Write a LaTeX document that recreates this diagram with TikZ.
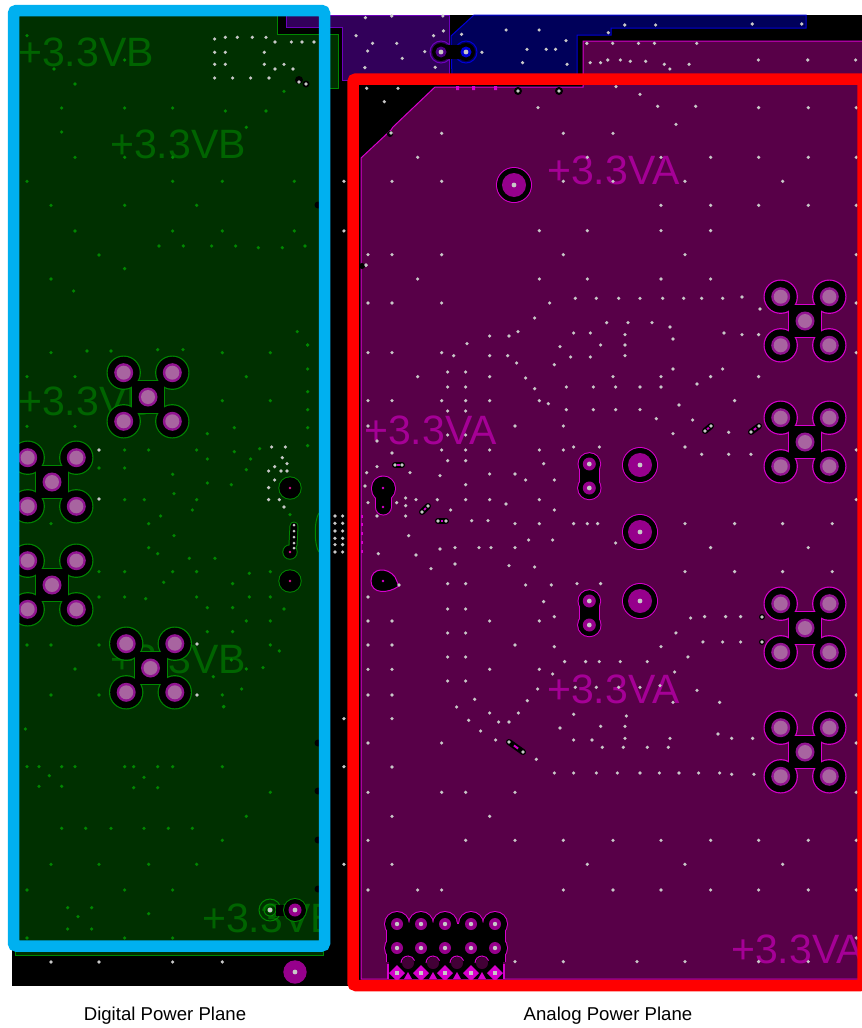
\documentclass[tikz,border=0pt]{standalone}
\usepackage{fontspec}
\setmainfont{Liberation Sans}
\definecolor{boxblue}{RGB}{0,176,240}
\definecolor{digiplane}{RGB}{0,48,0}
\definecolor{digiedge}{RGB}{0,135,0}
\definecolor{digitext}{RGB}{0,100,0}
\definecolor{anaplane}{RGB}{88,0,72}
\definecolor{anaedge}{RGB}{215,0,205}
\definecolor{anatext}{RGB}{165,0,150}
\definecolor{padring}{RGB}{145,20,145}
\definecolor{padcore}{RGB}{168,100,160}
\definecolor{viafill}{RGB}{150,0,140}
\definecolor{drillgrey}{RGB}{200,200,200}
\definecolor{violetplane}{RGB}{50,0,90}
\definecolor{violetedge}{RGB}{110,0,190}
\definecolor{navyplane}{RGB}{0,0,90}
\definecolor{navyedge}{RGB}{0,0,215}
\tikzstyle{frame}=[
	line width=11.5pt,
	rounded corners=3pt
]
\tikzstyle{netname}=[
	anchor=base west,
	inner sep=0pt,
	font=\fontsize{41}{41}\selectfont
]
\tikzstyle{caption}=[
	inner sep=0pt,
	text=black,
	font=\fontsize{18.6}{19}\selectfont
]
\tikzstyle{greydot}=[fill=drillgrey]
\tikzstyle{greendot}=[fill=digiedge]
\tikzstyle{cutout}=[fill=black]
\newcommand{\dotlist}[2]{\foreach \x/\y in {#2} \fill[#1] (\x,\y) circle (1.8pt);}
\newcommand{\drill}[2]{\fill[greydot] (#1,#2) circle (2.4pt);}
\newcommand{\padcross}[3]{
	\fill[#3] (#1-17,#2-17) rectangle (#1+17,#2+17);
	\foreach \a/\b in {-1/-1,1/-1,-1/1,1/1}
		\fill[#3] (#1+24.3*\a,#2+24.3*\b) circle (17.2pt);
	\fill[cutout] (#1-16,#2-16) rectangle (#1+16,#2+16);
	\foreach \a/\b in {-1/-1,1/-1,-1/1,1/1}
		\fill[cutout] (#1+24.3*\a,#2+24.3*\b) circle (16pt);
	\foreach \a/\b in {0/0,-1/-1,1/-1,-1/1,1/1} {
		\fill[padring] (#1+24.3*\a,#2+24.3*\b) circle (9.5pt);
		\fill[padcore] (#1+24.3*\a,#2+24.3*\b) circle (7pt);
	}
}
\newcommand{\bigvia}[2]{
	\fill[anaedge] (#1,#2) circle (18pt);
	\fill[cutout] (#1,#2) circle (17pt);
	\fill[viafill] (#1,#2) circle (12pt);
	\drill{#1}{#2}
}
\newcommand{\dogbone}[3]{
	\draw[anaedge,line width=21pt] (#1,#2) -- (#1,#3);
	\fill[anaedge] (#1,#2) circle (11.8pt) (#1,#3) circle (12.2pt);
	\draw[black,line width=19pt] (#1,#2) -- (#1,#3);
	\fill[cutout] (#1,#2) circle (10.8pt) (#1,#3) circle (11.2pt);
	\fill[viafill] (#1,#2) circle (6.5pt);
	\fill[viafill] (#1,#3) circle (6.5pt);
	\drill{#1}{#2}
	\drill{#1}{#3}
}
\newcommand{\sliver}[4]{
	\draw[black,line width=6pt,line cap=round] (#1,#2) -- (#3,#4);
	\draw[anaedge,line width=2pt] ($(#1,#2)!.35!(#3,#4)$) -- ($(#1,#2)!.65!(#3,#4)$);
	\fill[greydot] (#1,#2) circle (1.8pt);
	\fill[greydot] (#3,#4) circle (1.8pt);
}
\usetikzlibrary{calc}
\begin{document}
\begin{tikzpicture}[x=1pt,y=-1pt]
\clip (0,0) rectangle (862,1028);
\fill[white] (0,0) rectangle (862,1028);
\fill[black] (12,15) rectangle (862,986);

% planes of the upper neighbours
\filldraw[fill=violetplane,draw=violetedge,line width=1pt] (286,15) -- (449,15) -- (449,80) -- (342,80) -- (342,27) -- (286,27) -- cycle;
\filldraw[fill=navyplane,draw=navyedge,line width=1pt] (452,80) -- (451,36) -- (474,15) -- (806,15) -- (806,28) -- (611,28) -- (611,35) -- (577,35) -- (577,80) -- cycle;

% digital plane
\filldraw[fill=digiplane,draw=digiedge,line width=1pt] (15,15) -- (277,15) -- (277,34) -- (338,34) -- (338,88) -- (323,88) -- (323,955) -- (15,955) -- cycle;

% analog plane
\filldraw[fill=anaplane,draw=anaedge,line width=1pt] (361,158) -- (391,130) -- (393,127) -- (435,87) -- (583,87) -- (583,41) -- (870,41) -- (870,979) -- (361,979) -- cycle;

% net names
\node[netname,text=digitext] (vbA) at (18,66) {+3.3VB};
\node[netname,text=digitext] (vbB) at (110,158) {+3.3VB};
\node[netname,text=digitext] (vbC) at (18,415) {+3.3VB};
\node[netname,text=digitext] (vbD) at (110,673) {+3.3VB};
\begin{scope}
\clip (19,17) rectangle (319,940);
\node[netname,text=digitext] (vbE) at (202,932) {+3.3VB};
\end{scope}
\node[netname,text=anatext] (vaA) at (547,184) {+3.3VA};
\node[netname,text=anatext] (vaB) at (364,444) {+3.3VA};
\node[netname,text=anatext] (vaC) at (547,703) {+3.3VA};
\node[netname,text=anatext] (vaD) at (731,963) {+3.3VA};

% green drills, left plane
\begin{scope}[shift={(10,15)},x=.3333pt,y=-.3333pt]
\dotlist{greendot}{51/62,132/162,195/207,155/279,344/279,488/279,646/288,768/288,822/229,155/351,709/337,195/427,344/427,488/427,51/499,488/499,637/499,853/499,123/571,344/571,560/571,195/648,488/648,637/648,853/648,447/693,520/693,605/693,677/693,745/698,817/698,885/693,267/720,344/761,123/792,191/828,862/950,893/990,344/135}
\dotlist{greydot}{614/72,646/67,682/67,727/67,768/67,795/81,844/81,876/81,912/81,614/112,646/112,763/112,614/148,646/148,763/148,822/148,795/162,849/162,614/189,668/189,722/189,777/189,1002/499,1002/648}
\end{scope}
\begin{scope}[shift={(0,340)},x=.3333pt,y=-.3333pt]
\dotlist{greendot}{153/38,261/33,333/33,473/29,549/29,667/38,811/38,923/15,81/110,225/110,739/110,923/87,667/182,811/182,923/155,923/209,81/259,225/259,703/263,923/263,622/281,923/317,374/330,446/330,590/330,703/335,779/326,297/384,374/384,622/357,752/357,739/389,518/403,622/429,694/434,374/479,433/479,522/461,590/479,577/510,482/528,446/551,153/551,870/524,522/587,446/623,473/641,568/655,645/655,297/695,374/695,518/695,590/695,748/700,811/695,491/727,698/731,297/771,374/771,437/776,590/771,748/771,811/771,622/803,698/803,852/807,739/843,811/843,622/875,698/875,81/915,153/915,297/915,811/915,838/933,225/987,739/987,789/983,640/1010,694/960,153/1065,297/1065,667/1065,725/1047,671/1100}
\dotlist{greydot}{815/321,856/321,847/353,861/371,824/380,806/393,843/393,861/393,824/420,806/443,806/479,838/479,852/501,1005/528,1028/528,1005/550,1028/550,1005/573,1028/573,1005/595,1028/595,1005/614,1028/614,1005/636,1028/636}
\end{scope}
\begin{scope}[shift={(10,700)},x=.3333pt,y=-.3333pt]
\dotlist{greendot}{641/20,46/87,51/200,87/200,155/200,195/200,344/200,371/200,443/200,488/200,637/200,118/227,402/232,87/259,155/259,371/263,443/263,781/277,709/349,155/385,227/385,303/385,402/385,475/385,547/385,637/421,123/493,267/493,416/493,560/493,51/570,344/570,488/570,173/623,245/623,204/650,416/641,173/687,245/687,51/714,344/714,488/714}
\dotlist{greydot}{123/786,267/786,488/786,637/786,1002/56,1002/200,1002/493}
\end{scope}

% grey drills, upper planes
\begin{scope}[x=.5495pt,y=-.3333pt]
\dotlist{greydot}{665/53,713/48,806/48,648/107,789/107,807/93,678/130,722/130,669/153,773/155,732/175,664/203,792/202,840/103,921/90,981/90,1030/122,959/148,994/148,1011/148,877/157,951/188,1032/193,1137/75,1193/75,1369/72,1459/72,1107/98,1068/130,1115/130,1162/130,1191/130,1268/130,1074/188,1093/188,1106/180,1129/180,1147/184,1175/184,1209/193,1219/207,1254/193,1380/180,1470/180,1557/180}
\end{scope}

% grey drills, analog plane
\begin{scope}[shift={(360,85)},x=.3333pt,y=-.3333pt]
\dotlist{greydot}{20/10,114/10,73/50,768/5,840/28,534/68,893/64,1007/64,1196/68,1345/68,1489/68,948/118,94/145,245/145,610/145,759/145,173/217,682/217,903/217,1052/217,1196/217,1345/217,1489/217,96/289,245/289,610/289,759/289,975/289,1268/289,903/361,1052/361,1196/361,1345/361,1489/361,538/437,682/437,903/437,1052/437,24/509,96/509,245/509,610/509,975/509,1489/509,18/541}
\end{scope}
\begin{scope}[shift={(360,270)},x=.3333pt,y=-.3333pt]
\dotlist{greydot}{173/27,538/27,682/27,903/27,1052/27,24/99,96/99,245/99,569/99,646/85,709/85,776/85,840/85,908/85,971/85,1025/85,1088/85,1146/81,1200/117,1489/99,524/144,740/158,804/158,876/158,930/171,641/189,691/189,795/194,1092/189,1146/194,1196/194,474/185,447/198,389/198,321/221,722/225,795/225,939/207,600/230,24/248,96/248,245/248,281/257,389/257,443/257,632/261,691/261,795/257,1489/248,470/279,583/284,939/297,1088/297,173/320,263/306,317/306,389/320,497/324,759/320,903/320,1052/320,1196/320,263/351,317/351,524/356,619/351,700/351,767/351,840/351,903/351,1011/342,24/392,96/392,245/392,317/392,389/392,538/392,565/401,1124/392,957/405,263/423,317/423,619/419,700/419,767/419,840/419,889/446,998/450,24/468,465/468,610/468,317/495,263/495,51/513,939/491,1106/487,245/540,317/540,389/540,538/540,610/540,641/531,718/531,975/531,96/549,1025/553,1106/553,1173/553,1489/540,263/572,317/572,551/581,51/590,20/608,150/608,389/612,465/612,240/617,497/630,583/630,317/644,15/648,24/698,110/698,137/684,168/689,232/689,317/689,389/689,538/689,1489/689,137/707,438/702,272/720,583/720,137/738,51/738,335/752,384/752,465/761,538/761,641/761,682/761,713/761,975/761,1124/761,1268/761,1417/761,146/797,506/810,578/810,767/819,240/837,285/833,357/833,393/833,465/833,1052/833,1345/833,55/851,168/855,285/882,447/887,524/891,213/896,975/905,1124/905,1268/905,1417/905,263/941,317/941,497/945,574/945,651/941,722/941,24/981,551/995,583/1040,263/1017,317/1017,992/1044,1034/1040,1097/1040,1142/1040,24/1053,96/1053,389/1053,538/1053,948/1089,263/1089,317/1089,24/1125,96/1125,465/1125,583/1130,903/1130,1029/1116,1088/1116,1142/1116,263/1161,317/1161,984/1161,614/1175,677/1175,718/1175,781/1175,862/1175}
\end{scope}
\begin{scope}[shift={(360,665)},x=.3333pt,y=-.3333pt]
\dotlist{greydot}{24/13,96/13,389/13,538/13,578/27,263/48,317/48,533/72,646/67,709/67,776/67,840/67,900/62,944/21,1011/76,24/90,96/90,344/103,502/107,290/126,939/112,1079/112,1489/90,389/144,475/144,641/148,799/153,96/161,326/166,416/171,447/171,600/189,722/184,795/184,362/198,1074/207,1115/220,1178/220,641/225,696/225,795/220,930/220,407/225,24/234,245/234,1489/234,727/247,790/247,862/247,925/247,529/283,96/306,583/324,641/324,709/324,772/324,840/324,898/324,957/324,1016/324,1079/324,1115/328,1182/328,24/382,245/382,317/382,465/382,1489/382,96/454,389/454,24/526,317/526,465/526,610/526,759/526,903/526,1052/526,1196/526,1345/526,1489/526,96/598,682/598,975/598,1268/598,24/675,173/675,245/675,610/675,759/675,903/675,1052/675,1196/675,1345/675,1489/675,465/890,610/890,831/890,975/890,1196/890,1345/890,1489/819}
\end{scope}

% pad clusters
\padcross{148}{397}{digiedge}
\padcross{52}{482}{digiedge}
\padcross{52}{585}{digiedge}
\padcross{150.5}{668}{digiedge}
\padcross{805}{321}{anaedge}
\padcross{805}{442}{anaedge}
\padcross{805}{628}{anaedge}
\padcross{805}{752}{anaedge}
\foreach \x/\y in {99/450,99/499,197/644,197/695}
	\fill[greydot] (\x,\y) circle (1.8pt);

% vias, analog plane
\bigvia{514}{185}
\bigvia{640}{465}
\bigvia{640}{532}
\bigvia{640}{601}
\dogbone{589.3}{464}{488}
\dogbone{589.3}{601}{625}

% small openings, analog plane
\draw[anaedge,line width=25pt,line cap=round] (383,488) -- (383,489);
\draw[anaedge,line width=17pt,line cap=round] (383,490) -- (383,507);
\draw[black,line width=23pt,line cap=round] (383,488) -- (383,489);
\draw[black,line width=15pt,line cap=round] (383,490) -- (383,507);
\fill[anaedge] (383,488) circle (1.4pt) (383,507) circle (1.4pt);
\filldraw[draw=anaedge,fill=black,line width=1pt] (395,577) .. controls (388,567) and (371,567) .. (371,581) .. controls (371,594) and (388,594) .. (399,586) -- cycle;
\fill[anaedge] (383,581) circle (1.4pt);
\fill[greydot] (399,585) circle (1.8pt);
\sliver{395}{465}{402}{465}
\sliver{422}{512}{428}{506}
\sliver{438}{521}{446}{521}
\sliver{705}{431}{711}{426}
\sliver{751}{432}{759}{426}
\sliver{509}{742}{523}{752}
\fill[cutout] (762,617) circle (3pt) (762,642) circle (3pt) (518,91) circle (4pt) (559,91) circle (4pt) (390,134) circle (3pt) (362,266) circle (3pt);
\fill[greydot] (762,617) circle (1.8pt) (762,642) circle (1.8pt) (518,91) circle (1.8pt) (559,91) circle (1.8pt) (391,133) circle (1.8pt) (366,265) circle (1.8pt);
\fill[anaedge] (456,86) rectangle (459,90) (472,86) rectangle (475,90) (494,86) rectangle (497,90);
\foreach \y in {515,523,532,541,550}
	\fill[anaedge] (361,\y) rectangle (363,\y+3);

% vias and traces, digital plane
\foreach \y in {488,581} {
	\fill[digiedge] (290,\y) circle (11.7pt);
	\fill[cutout] (290,\y) circle (10.7pt);
	\fill[magenta!90!black] (290,\y) circle (1.4pt);
}
\draw[digiedge,line width=9pt,line cap=round] (294,526) -- (293,545);
\fill[digiedge] (290,552) circle (7.7pt);
\draw[black,line width=7pt,line cap=round] (294,526) -- (293,545);
\fill[cutout] (290,552) circle (6.7pt);
\fill[magenta!90!black] (290,552) circle (1.4pt);
\foreach \y in {525,531,537,543,548}
	\fill[greydot] (294,\y) circle (1.5pt);
\draw[digiedge,line width=1pt] (319,513) .. controls (314,520) and (314,545) .. (319,552);
\fill[cutout] (299,80) circle (4pt) (306,84) circle (3.5pt);
\fill[greydot] (299,82) circle (1.8pt) (306,84) circle (1.8pt);
\foreach \y in {205,743,791,840,889}
	\fill[cutout] (318,\y) circle (3.5pt);

% pads at the foot of the digital plane
\draw[digiedge,line width=1pt] (270,910) circle (11pt) (270,910) circle (6pt);
\fill[cutout] (276,905) rectangle (290,916);
\fill[digiedge] (270,910) circle (3pt);
\fill[digiedge] (295,910) circle (12pt);
\fill[cutout] (295,910) circle (11pt);
\fill[viafill] (295,910) circle (6.5pt);
\drill{270}{910}
\drill{295}{910}
\fill[viafill] (295,972) circle (11.7pt);
\drill{295}{972}

% via pair at the top
\draw[violetedge,line width=1pt] (441,52) circle (11pt);
\draw[navyedge,line width=1pt] (466,52) circle (11pt);
\fill[cutout] (441,52) circle (9pt) (466,52) circle (9pt);
\fill[cutout] (441,45) rectangle (466,59);
\fill[violetedge!70!black] (441,52) circle (5.5pt);
\fill[navyedge] (466,52) circle (5.5pt);
\drill{441}{52}
\drill{466}{52}

% via field, lower left
\foreach \x in {397,421,445,471,495}
	\foreach \y in {924,948}
		\fill[anaedge] (\x,\y) circle (13pt);
\fill[anaedge] (386,924) rectangle (506,962);
\foreach \x in {397,421,445,471,495}
	\foreach \y in {924,948}
		\fill[cutout] (\x,\y) circle (12pt);
\fill[cutout] (387,924) rectangle (505,962);
\fill[anaedge] (387,964) rectangle (505,979);
\fill[cutout] (389,962) rectangle (503,979);
\foreach \x in {408,433,457,482} {
	\fill[anaplane!75!black] (\x,963) circle (6pt);
	\draw[anaedge,line width=1pt] (\x-7,963) arc (180:20:7pt);
	\fill[anaedge] (\x-4,979) -- (\x,972) -- (\x+4,979) -- cycle;
}
\foreach \x in {397,421,445,471,495} {
	\foreach \y in {924,948} {
		\fill[viafill] (\x,\y) circle (6pt);
		\fill[greydot] (\x,\y) circle (2.2pt);
	}
	\fill[anaedge] (\x-8,973) -- (\x,965) -- (\x+8,973) -- (\x,981) -- cycle;
	\fill[greydot] (\x-2.4,970.6) rectangle (\x+2.4,975.4);
}

% outer frames
\draw[frame,draw=boxblue] (13.5,10.5) rectangle (324.5,946);
\draw[frame,draw=red] (353,79) rectangle (863,985.5);

\node[caption] (digitalCaption) at (165,1016) {Digital Power Plane};
\node[caption] (analogCaption) at (608,1016) {Analog Power Plane};
\end{tikzpicture}
\end{document}
